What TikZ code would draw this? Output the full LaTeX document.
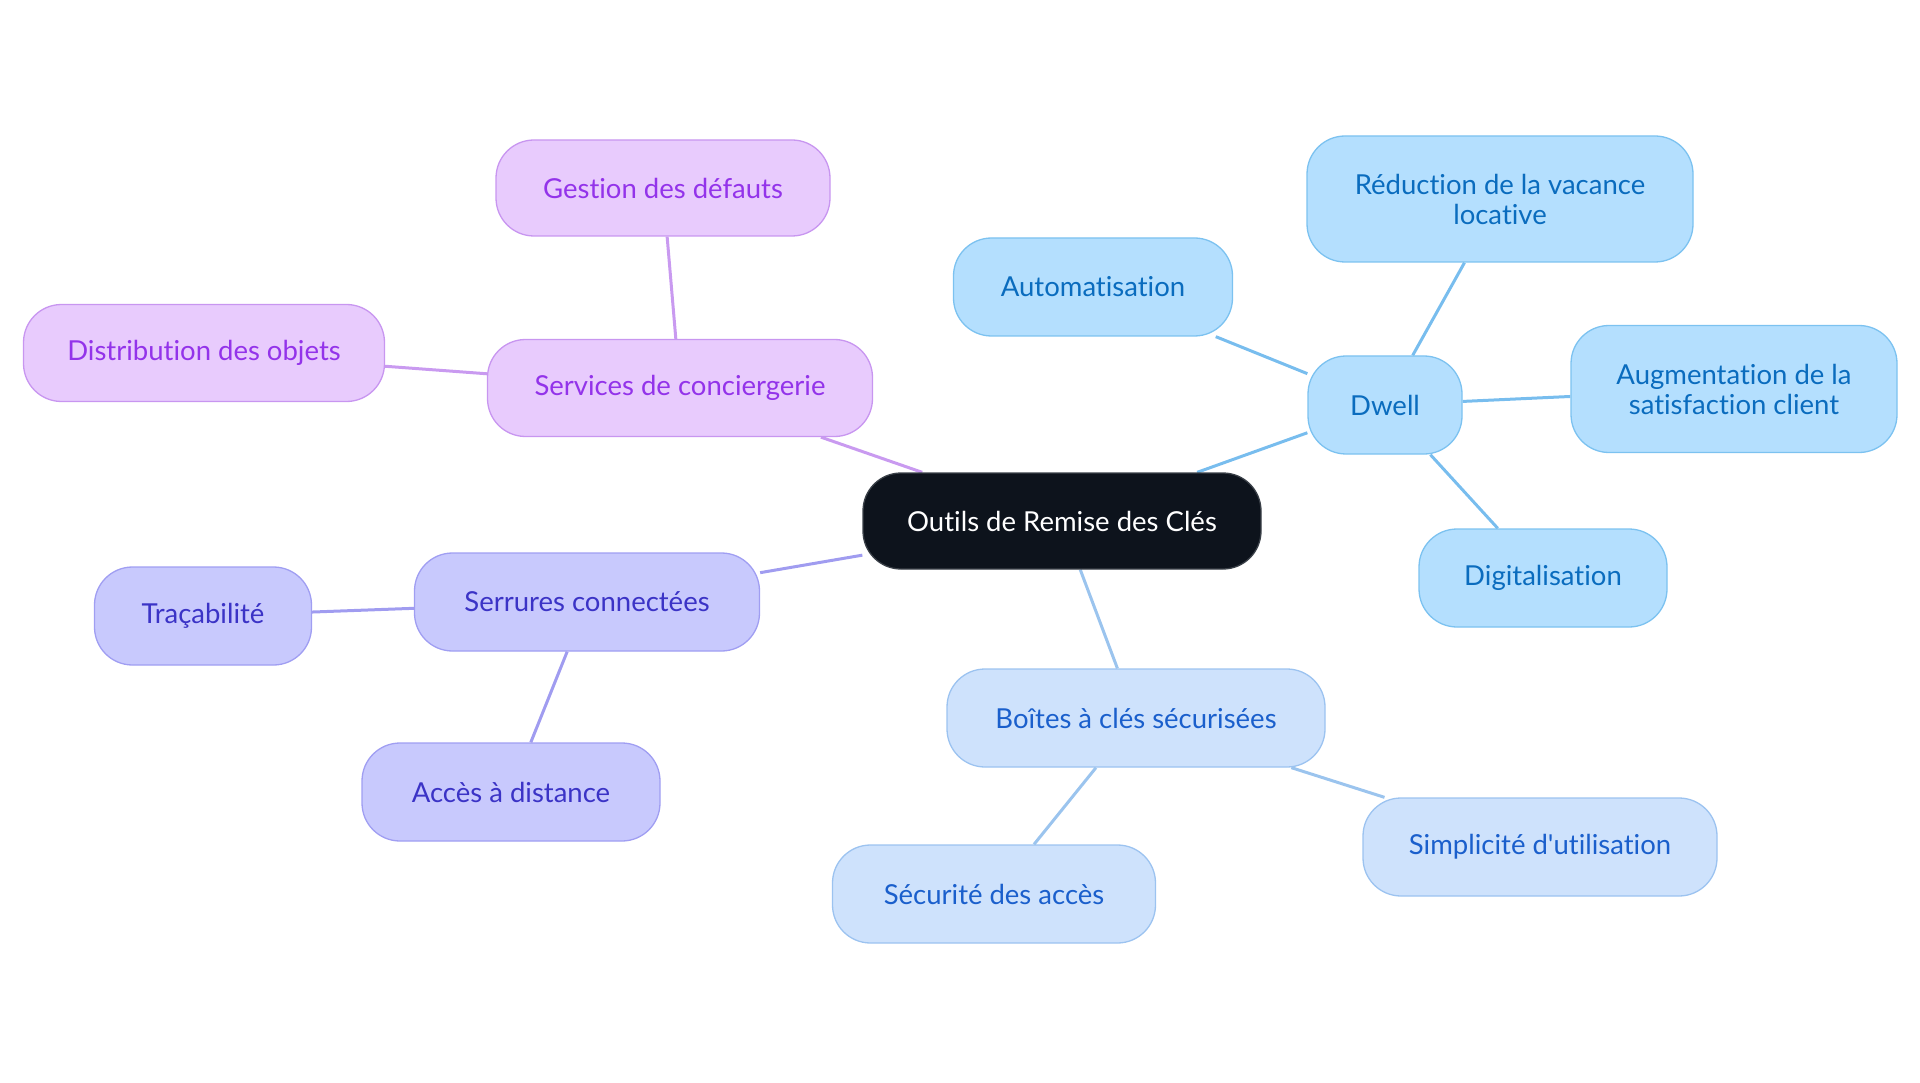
\documentclass[tikz,border=0pt]{standalone}
\usepackage{fontspec}
\setmainfont{Lato}[Ligatures={TeX,NoCommon}]
\newfontfamily\plainlato{Lato}[Ligatures=NoCommon]
\usetikzlibrary{backgrounds}
\definecolor{cfill}{HTML}{0D131C}
\definecolor{cdraw}{HTML}{3A4048}
\definecolor{pfill}{HTML}{E8CBFD}
\definecolor{pdraw}{HTML}{C896F0}
\definecolor{ptext}{HTML}{9333EA}
\definecolor{pline}{HTML}{C99AF0}
\definecolor{ifill}{HTML}{C8C9FD}
\definecolor{idraw}{HTML}{A09EF2}
\definecolor{itext}{HTML}{3B33C6}
\definecolor{iline}{HTML}{A09CF0}
\definecolor{sfill}{HTML}{B4DFFE}
\definecolor{sdraw}{HTML}{7CC2F0}
\definecolor{stext}{HTML}{0A6CBE}
\definecolor{sline}{HTML}{78BDEE}
\definecolor{bfill}{HTML}{CEE2FC}
\definecolor{bdraw}{HTML}{9CC3F0}
\definecolor{btext}{HTML}{1A5FCC}
\definecolor{bline}{HTML}{9BC4EE}
\tikzset{
  box/.style={rectangle, rounded corners=38pt, line width=1.3pt, inner sep=0pt,
    align=center, font=\fontsize{27.5}{30}\selectfont},
  centre/.style={box, fill=cfill, draw=cdraw, text=white},
  purp/.style={box, fill=pfill, draw=pdraw, text=ptext},
  indi/.style={box, fill=ifill, draw=idraw, text=itext},
  sky/.style={box, fill=sfill, draw=sdraw, text=stext},
  blu/.style={box, fill=bfill, draw=bdraw, text=btext},
  sz/.style 2 args={minimum width=#1pt, minimum height=#2pt},
  lk/.style={line width=3pt, draw=#1}
}
\begin{document}
\begin{tikzpicture}[x=1pt, y=-1pt]
\useasboundingbox (0,0) rectangle (1920,1083);
\node[centre, sz={398}{96}] (c) at (1062,521) {Outils de Remise des Clés};
\node[purp, sz={385}{97}] (serv) at (680,388) {Services de conciergerie};
\node[purp, sz={334}{96}] (gest) at (663,188) {Gestion des défauts};
\node[purp, sz={361}{97}] (dist) at (204,353) {Distribution des objets};
\node[indi, sz={345}{98}] (serr) at (587,602) {Serrures connectées};
\node[indi, sz={217}{98}] (trac) at (203,616) {Traçabilité};
\node[indi, sz={298}{98}] (acc) at (511,792) {Accès à distance};
\node[blu, sz={378}{98}] (boit) at (1136,718) {Boîtes à clés sécurisées};
\node[blu, sz={323}{98}] (secu) at (994,894) {Sécurité des accès};
\node[blu, sz={354}{98}] (simp) at (1540,847) {Simplicité d{\plainlato'}utilisation};
\node[sky, sz={154}{98}] (dwell) at (1385,405) {Dwell};
\node[sky, sz={279}{98}] (auto) at (1093,287) {Automatisation};
\node[sky, sz={386}{126}] (red) at (1500,199) {Réduction de la vacance\\locative};
\node[sky, sz={326}{127}] (aug) at (1734,389) {Augmentation de la\\satisfaction client};
\node[sky, sz={248}{98}] (dig) at (1543,578) {Digitalisation};
\begin{scope}[on background layer]
\draw[lk=pline] (c) -- (serv);
\draw[lk=pline] (serv) -- (gest);
\draw[lk=pline] (serv) -- (dist);
\draw[lk=iline] (c) -- (serr);
\draw[lk=iline] (serr) -- (trac);
\draw[lk=iline] (serr) -- (acc);
\draw[lk=bline] (c) -- (boit);
\draw[lk=bline] (boit) -- (secu);
\draw[lk=bline] (boit) -- (simp);
\draw[lk=sline] (c) -- (dwell);
\draw[lk=sline] (dwell) -- (auto);
\draw[lk=sline] (dwell) -- (red);
\draw[lk=sline] (dwell) -- (aug);
\draw[lk=sline] (dwell) -- (dig);
\end{scope}
\end{tikzpicture}
\end{document}
